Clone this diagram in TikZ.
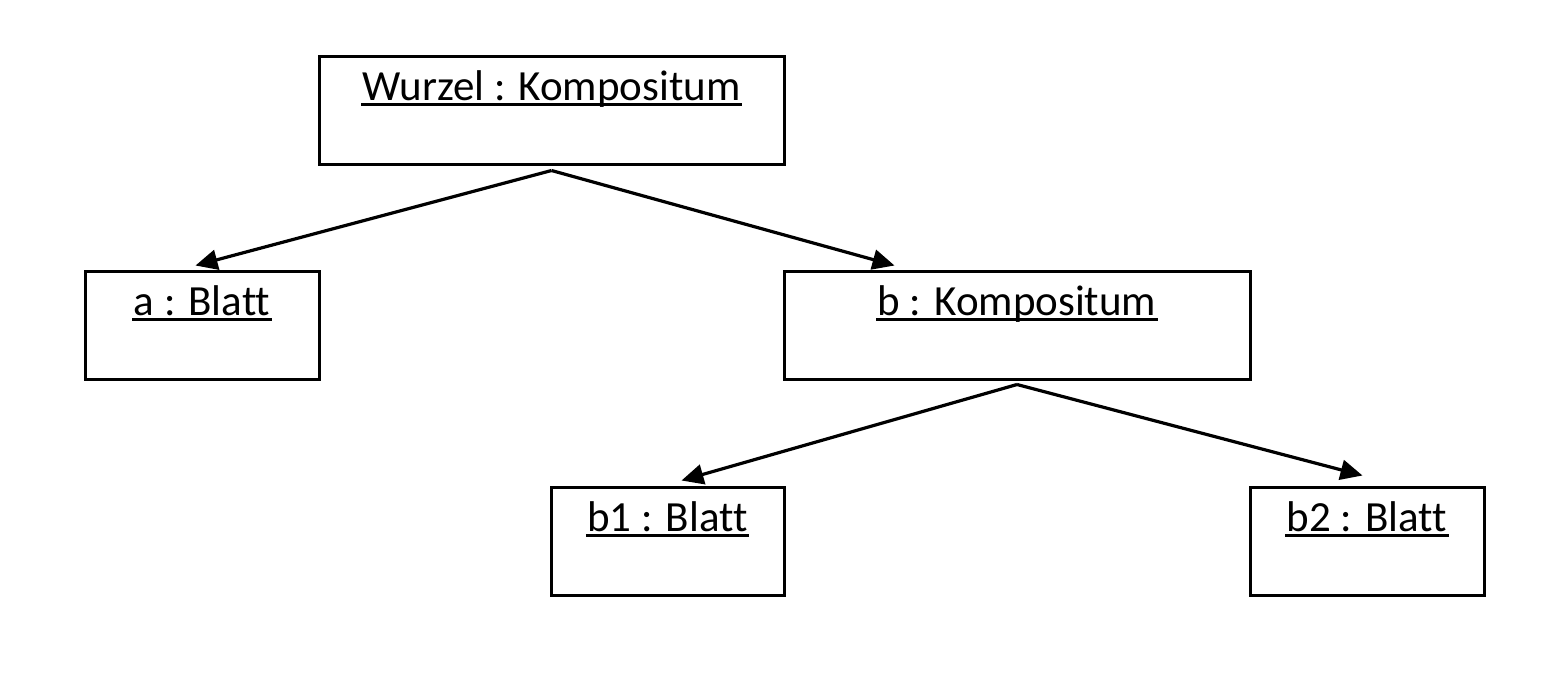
\documentclass[tikz,border=0pt]{standalone}
\usepackage{fontspec}
\setmainfont[Ligatures=NoCommon]{Carlito}
\usetikzlibrary{arrows.meta}
\begin{document}
\begin{tikzpicture}[x=0.5pt,y=-0.5pt,
  box/.style={draw,line width=1.5pt,inner sep=0pt,minimum height=54pt},
  lbl/.style={anchor=base,inner sep=0pt,font=\fontsize{21.5}{25}\selectfont},
  ul/.style={line width=1.5pt},
  conn/.style={line width=1.6pt,-{Triangle[length=11pt,width=10pt]}}]
\useasboundingbox (0,0) rectangle (1564,698);
% boxes
\node[box,minimum width=232.5pt] (W) at (551.5,110) {};
\node[box,minimum width=117pt] (a) at (202,325) {};
\node[box,minimum width=233pt] (b) at (1017,325) {};
\node[box,minimum width=116.5pt] (b1) at (667.5,541) {};
\node[box,minimum width=117pt] (b2) at (1367,541) {};
% labels
\node[lbl] (tW) at ([yshift=-23pt]W.north) {Wurzel : Kompositum};
\node[lbl] (ta) at ([yshift=-23pt]a.north) {a : Blatt};
\node[lbl] (tb) at ([yshift=-23pt]b.north) {b : Kompositum};
\node[lbl] (tb1) at ([yshift=-23pt]b1.north) {b1 : Blatt};
\node[lbl] (tb2) at ([yshift=-23pt]b2.north) {b2 : Blatt};
% underlines
\foreach \t in {tW,ta,tb,tb1,tb2}{
  \draw[ul] ([xshift=-0.5pt,yshift=-2.2pt]\t.base west) -- ([xshift=0.5pt,yshift=-2.2pt]\t.base east);
}
% connectors
\draw[conn] ([yshift=-2.5pt]W.south) -- ([xshift=56pt,yshift=2pt]a.north west);
\draw[conn] ([yshift=-2.5pt]W.south) -- ([xshift=56pt,yshift=2pt]b.north west);
\draw[conn] ([yshift=-2pt]b.south) -- ([xshift=66pt,yshift=2.5pt]b1.north west);
\draw[conn] ([yshift=-2pt]b.south) -- ([xshift=57pt,yshift=5pt]b2.north west);
\end{tikzpicture}
\end{document}
